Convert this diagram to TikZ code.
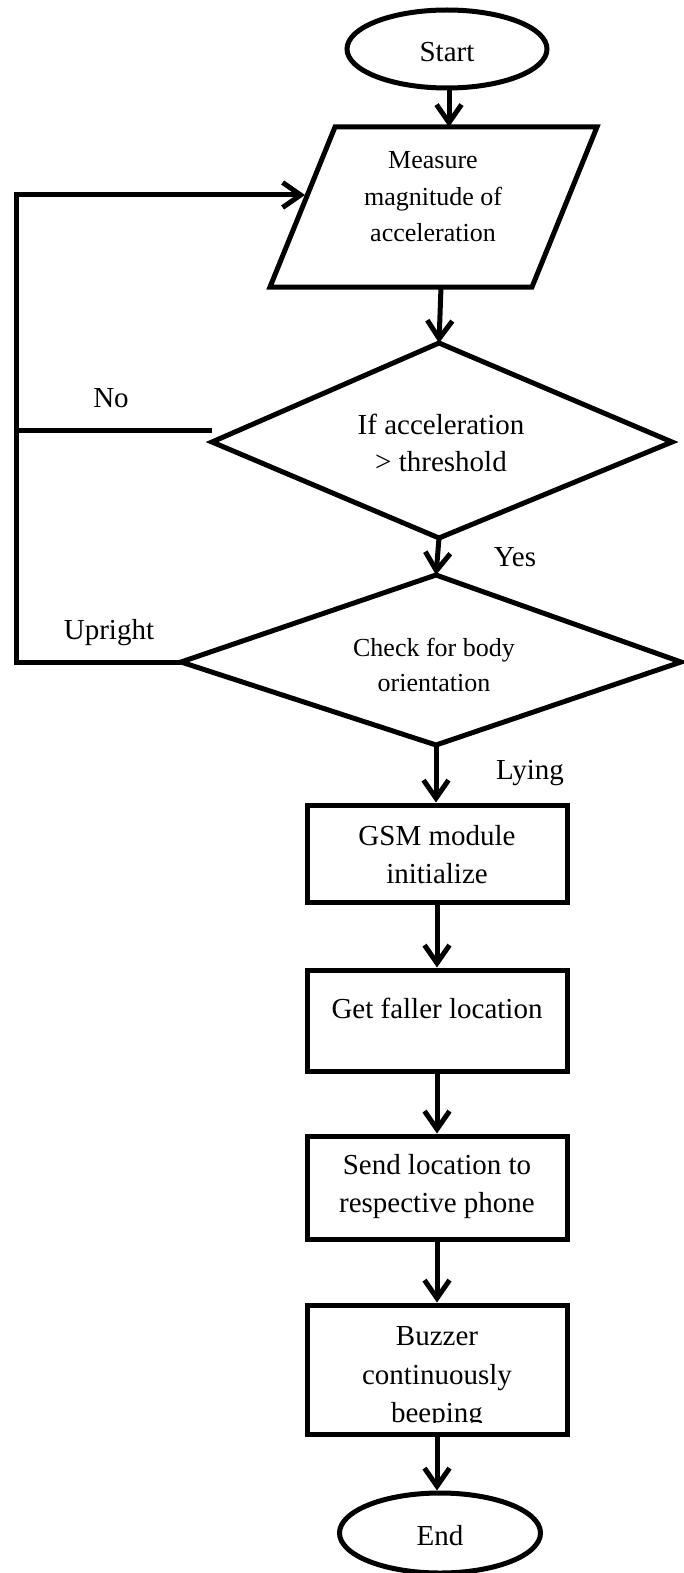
\documentclass[tikz,border=0pt]{standalone}
\usepackage{fontspec}
\setmainfont{Liberation Serif}
\usetikzlibrary{arrows.meta,shapes.geometric}
\begin{document}
\begin{tikzpicture}[x=0.5pt,y=-0.5pt,
  every node/.style={font=\fontsize{14.5}{18.75}\selectfont},
  ln/.style={line width=2.5pt,line join=miter},
  arr/.style={line width=2.5pt,-{Straight Barb[length=9pt,width=12.5pt]}},
  term/.style={draw,ellipse,line width=2.5pt,minimum width=100pt,minimum height=39pt,inner sep=0pt},
  box/.style={draw,line width=2.5pt,minimum width=130pt,inner sep=0pt},
  txt/.style={align=center,inner sep=0pt},
  small/.style={font=\fontsize{13}{18}\selectfont}
]
\useasboundingbox (0,0) rectangle (684,1573);

% Start
\node[term] (start) at (447,49) {};
\node[txt] (starttxt) at (447,52) {Start};

% Parallelogram
\coordinate (pa) at (335,127);
\coordinate (pb) at (597,127);
\coordinate (pc) at (532,287);
\coordinate (pd) at (270,287);
\draw[ln] (pa) -- (pb) -- (pc) -- (pd) -- cycle;
\node[txt,small,font=\fontsize{13}{18.25}\selectfont] (meas) at (433,197) {Measure\\magnitude of\\acceleration};
\coordinate (ptop) at (449,127);
\coordinate (pbot) at (441,287);
\coordinate (pin) at (305,195);

% Diamond 1
\coordinate (d1t) at (439,343);
\coordinate (d1r) at (672,442);
\coordinate (d1b) at (439,538);
\coordinate (d1l) at (212,442);
\draw[ln] (d1t) -- (d1r) -- (d1b) -- (d1l) -- cycle;
\node[txt,font=\fontsize{14.5}{18.5}\selectfont] (d1txt) at (441,443) {If acceleration\\> threshold};

% Diamond 2
\coordinate (d2t) at (436,575);
\coordinate (d2r) at (681,662);
\coordinate (d2b) at (436,745);
\coordinate (d2l) at (181,662);
\draw[ln] (d2t) -- (d2r) -- (d2b) -- (d2l) -- cycle;
\node[txt,font=\fontsize{13}{17.5}\selectfont] (d2txt) at (434,665) {Check for body\\orientation};

% Boxes
\node[box,minimum height=48.5pt] (gsm) at (437,853.5) {};
\node[txt,font=\fontsize{14.5}{19}\selectfont] (gsmtxt) at (437,855) {GSM module\\initialize};
\node[box,minimum height=50.5pt] (get) at (437,1020.5) {};
\node[txt] (gettxt) at (437,1008) {Get faller location};
\node[box,minimum height=51.5pt] (send) at (437,1187.5) {};
\node[txt,font=\fontsize{14.5}{19}\selectfont] (sendtxt) at (437,1187) {Send location to\\respective phone};
\node[box,minimum height=64.5pt] (buzz) at (437,1369.5) {};
\begin{scope}
  \clip (300,1300) rectangle (575,1422);
  \node[txt,font=\fontsize{14.5}{19.25}\selectfont] (buzztxt) at (437,1378) {Buzzer\\continuously\\beeping};
\end{scope}

% End
\node[term,minimum width=100.5pt,minimum height=40pt] (end) at (440,1533) {};
\node[txt] (endtxt) at (440,1536) {End};

% Connectors
\draw[arr] (start.south -| ptop) -- (ptop);
\draw[arr] (pbot) -- (d1t);
\draw[arr] (d1b) -- (d2t);
\draw[arr] (d2b) -- (d2b |- gsm.north);
\draw[arr] (gsm.south) -- (get.north);
\draw[arr] (get.south) -- (send.north);
\draw[arr] (send.south) -- (buzz.north);
\draw[arr] (buzz.south) -- (buzz.south |- end.north);

% Loop back
\coordinate (loopB) at (16.6,662);
\coordinate (loopT) at (16.6,195);
\draw[arr] (d2l) -- (loopB) -- (loopT) -- (pin);
\coordinate (noL) at (16.6,430);
\coordinate (noR) at (212,430);
\draw[ln] (noL) -- (noR);

% Labels
\node[txt] (lno) at (111,398) {No};
\node[txt] (lyes) at (515,557) {Yes};
\node[txt] (lup) at (109,633) {Upright};
\node[txt] (lly) at (530,773) {Lying};
\end{tikzpicture}
\end{document}
